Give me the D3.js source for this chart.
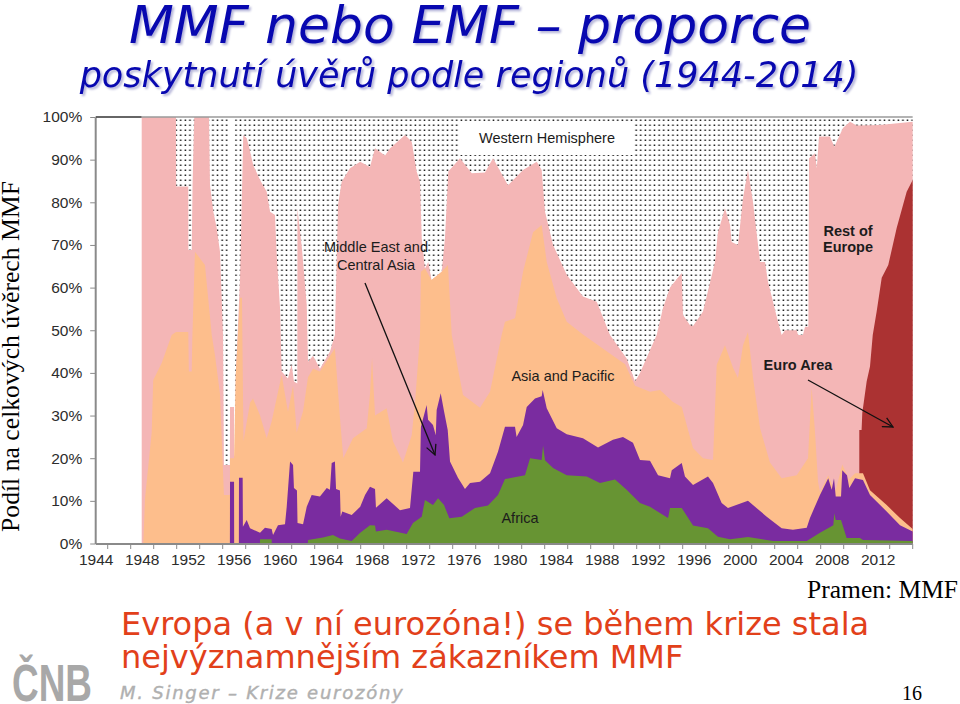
<!DOCTYPE html>
<html>
<head>
<meta charset="utf-8">
<script src="https://cdn.jsdelivr.net/npm/d3@7"></script>
<style>
  html, body { margin: 0; padding: 0; background: #fff; }
  svg { display: block; }
  .title { font-family: "DejaVu Sans", sans-serif; font-style: italic; fill: #0808b0;
           filter: drop-shadow(2px 2px 1px #b4b4d8); }
  .note { font-family: "Liberation Serif", serif; fill: #000; }
  .message { font-family: "DejaVu Sans", sans-serif; fill: #e2401a; font-size: 32px; }
  .axis text { font-family: "Liberation Sans", sans-serif; font-size: 15.5px; fill: #2c2c2c; }
  .axis path, .axis line { stroke: #8a8a8a; }
  .label { font-family: "Liberation Sans", sans-serif; font-size: 14.5px; fill: #1c1c1c; text-anchor: middle; }
</style>
</head>
<body>
<div id="chart"></div>
<script>
  // Cumulative share of IMF credit (percent) at the top of each region
  const africaTop = [[1958.28,0],[1958.29,1],[1959.3,1],[1959.31,0],[1962.45,0],[1962.46,.8],[1963.76,1.4],[1964.63,2],[1965.24,1.2],[1966.26,.6],[1967,2.5],[1967.85,4.3],[1968.29,4.2],[1968.37,2.8],[1969.3,3.2],[1971.04,2.2],[1971.59,4.8],[1972.35,6.3],[1972.63,10.2],[1973.33,9],[1973.77,10.6],[1974.29,9],[1974.75,5.9],[1975.83,6.3],[1976.98,8.3],[1978.11,8.9],[1978.98,11.4],[1979.59,15.1],[1981.33,16],[1981.77,20],[1982.78,19.6],[1982.9,23],[1983.07,19.5],[1983.77,17.7],[1984.96,16],[1986.7,15.7],[1987.85,14.2],[1989.16,15],[1990.17,12.6],[1991.33,9.5],[1992.2,8.6],[1993.77,6],[1993.94,8.3],[1994.96,8.3],[1995.94,4.2],[1997.24,3.6],[1998.11,1.6],[1999.16,1],[2000.72,1.5],[2002.9,.6],[2005.83,.6],[2006.98,2.5],[2008.14,4.3],[2008.23,7.1],[2008.35,5.5],[2008.81,5.5],[2009.3,1.3],[2010.46,1.3],[2010.72,.8],[2015.04,.6]];

  const middleEastTop = [[1955.67,0],[1955.68,14.5],[1956.03,14.5],[1956.04,0],[1956.45,0],[1956.46,15.4],[1956.78,15.4],[1956.8,3.9],[1957.13,5.5],[1957.42,3.6],[1958.29,2.5],[1958.72,3.7],[1959.3,3.4],[1959.42,2],[1959.85,4.3],[1960.46,4.5],[1960.61,8.6],[1960.9,19.2],[1961.16,18.4],[1961.24,13],[1961.5,12.4],[1961.55,4.8],[1962.03,4.5],[1962.35,8.6],[1962.78,11.4],[1963.5,11],[1964.09,13],[1964.37,12.6],[1964.52,18.9],[1964.8,19.2],[1964.9,12.8],[1965.24,12.4],[1965.3,6.3],[1965.44,7.5],[1966.26,6.7],[1967,8.6],[1967.42,11.4],[1967.85,13.3],[1968.29,12.8],[1968.37,8.4],[1969.3,10.6],[1970.46,7.8],[1971.33,8.3],[1971.62,16.8],[1972.2,16.8],[1972.28,27.4],[1972.78,32.5],[1972.9,29],[1973.33,27.8],[1973.57,25.4],[1973.65,31.3],[1974,35.2],[1974.29,31],[1974.61,26.6],[1974.81,19.2],[1975.5,15.4],[1976.11,12.8],[1976.55,14.2],[1977.42,14.5],[1978.29,16.5],[1978.98,21.5],[1979.59,27.4],[1980.46,27.4],[1980.6,25],[1981.16,27.8],[1981.48,32],[1982.2,34],[1982.78,34.5],[1982.87,36],[1983.22,31.7],[1984.09,27],[1984.96,25.6],[1986.37,24.7],[1987.68,22.5],[1988.98,24.3],[1989.85,25],[1990.72,23.6],[1991.33,19.6],[1992.2,19.4],[1992.9,16],[1993.94,15.3],[1994.09,17.2],[1994.96,18.9],[1995.24,15.7],[1995.94,13.7],[1997.24,15.7],[1997.68,14.2],[1998.43,9.5],[1998.98,8.3],[2000.72,10],[2002.35,6.3],[2003.65,3.6],[2004.63,3.2],[2005.83,3.7],[2006.11,6],[2006.98,11.4],[2007.7,15.3],[2008,12.6],[2008.2,15.3],[2008.35,11],[2008.81,11],[2008.92,17.2],[2009.33,16],[2009.53,13],[2010.03,15.3],[2010.72,14.9],[2011.33,11.4],[2012.78,7.5],[2013.94,4.3],[2015.04,2.8]];

  const asiaTop = [[1948.14,0],[1948.29,10.6],[1948.87,26],[1949,38.3],[1949.74,42.3],[1950.61,48.9],[1950.98,49.6],[1952.05,49.6],[1952.1,40.3],[1952.35,40.3],[1952.4,48],[1952.63,68.4],[1953.5,65.3],[1954.09,48.9],[1954.37,44.2],[1954.81,35],[1955.15,11.4],[1955.67,11.4],[1955.68,20],[1956.03,20],[1956.18,39.5],[1956.55,57.6],[1956.72,57.6],[1956.85,24],[1957.42,33],[1957.68,34],[1958.29,30],[1958.87,24.7],[1959.3,28.6],[1960.17,39.5],[1960.72,30.9],[1961.16,37],[1961.48,26],[1962.03,31],[1962.46,39],[1962.9,41],[1963.5,40.3],[1964.8,45.8],[1965.24,29.4],[1965.53,20],[1966.37,24.7],[1967.57,27],[1967.85,35],[1968.03,43.5],[1968.29,30],[1969.3,31.7],[1969.85,24],[1970.72,19],[1971.48,25.4],[1971.77,33],[1972.2,48.9],[1972.28,63.7],[1972.63,64.5],[1973.2,61.8],[1974.09,63.7],[1974.63,65.3],[1974.96,48.9],[1975.5,41],[1975.94,34.8],[1977.42,31.8],[1978.29,35.6],[1979.3,48.9],[1979.59,52],[1980.46,52.8],[1981.16,63.7],[1982.03,73],[1982.78,74.7],[1983.22,66],[1984.09,57.5],[1984.96,52],[1986.37,49],[1990.03,42],[1990.9,37],[1992.2,35.6],[1993.07,36],[1994.2,33.2],[1994.96,32],[1995.94,22.4],[1996.81,20],[1997.68,19.6],[1998,41.9],[1998.72,46.5],[1999.42,41.2],[1999.85,38.8],[2000.29,46.5],[2000.72,49.6],[2001.16,38.8],[2001.77,27],[2002.63,19],[2003.65,15.3],[2004.96,16],[2005.94,20],[2006.26,36.5],[2006.55,26],[2006.81,14.5],[2006.98,12],[2007.7,16],[2008,14],[2008.35,12.5],[2008.92,18.5],[2009.5,15],[2010.03,16.5],[2010.72,16.5],[2011.33,12.5],[2012.78,9],[2013.94,6],[2015.04,3.4]];

  const euroAreaTop = [[2010.4,26.6],[2010.6,26.6],[2010.66,30.6],[2011.04,38],[2011.33,41.5],[2011.57,48.9],[2011.91,54.4],[2012.35,62.3],[2012.92,65.3],[2013.65,74],[2014.52,82.5],[2015.04,85.2]];

  const restOfEuropeTop = [[1948,100],[1950.98,100],[1951,83.7],[1952.05,83.7],[1952.06,68.8],[1952.35,68.8],[1952.42,84],[1952.57,100],[1953.85,100],[1953.94,84],[1954.23,77.8],[1954.52,74],[1954.81,68.4],[1955.07,48.9],[1955.15,18.4],[1955.67,18.4],[1955.68,32],[1956.03,32],[1956.04,20.6],[1956.17,20.6],[1956.18,39.5],[1956.55,62],[1956.83,95.8],[1957.13,95],[1957.36,92.7],[1957.7,88.7],[1958.29,85.2],[1958.87,82.5],[1959.16,77.8],[1959.59,77],[1959.74,67.6],[1960.03,55.2],[1960.17,40.3],[1960.72,38.7],[1961.04,42],[1961.24,38],[1961.53,37.5],[1961.54,78.6],[1961.94,69],[1962.35,56],[1962.46,42.6],[1962.9,44],[1963.5,41],[1964.37,45],[1964.8,48.9],[1965.07,79.4],[1965.39,84.8],[1966.11,88],[1967,89.5],[1967.85,88.3],[1968.29,92.7],[1969.16,91],[1969.6,92.7],[1970.9,95.8],[1971.48,94.2],[1971.91,87.2],[1972.2,84.8],[1972.35,71.6],[1972.63,64.5],[1972.92,66],[1973.2,61.8],[1974.09,63.7],[1974.37,71.6],[1974.66,87.2],[1975.68,90.3],[1976.7,86.8],[1977.85,87],[1978.55,90.3],[1979.85,84],[1981.16,87.6],[1982.35,89.5],[1982.78,87.6],[1983.07,77.8],[1983.77,70],[1984.96,63],[1986.37,57.9],[1987.57,56.7],[1988.72,48.9],[1990.17,43.4],[1990.9,38],[1991.33,40],[1992.78,48.9],[1993.33,55.2],[1993.94,60],[1994.96,63.4],[1995.07,53.6],[1995.68,51.2],[1995.94,51],[1996.81,54.4],[1997.85,66],[1998.11,73],[1998.72,78.6],[1999.16,74.7],[1999.3,70.7],[1999.85,70],[2000.29,81],[2000.72,87.6],[2001.16,80],[2001.77,66],[2002.2,66],[2002.46,61.4],[2003.33,52],[2003.65,48.9],[2003.94,50],[2004.96,50],[2005.07,48.9],[2005.5,48.9],[2005.68,50.8],[2005.97,50.8],[2006.03,90.3],[2006.55,91.5],[2006.7,88],[2006.9,95.4],[2007.85,95.4],[2008.23,93],[2008.98,97.4],[2009.59,98.9],[2010.17,98],[2012.2,98.1],[2015.04,98.9]];

  const westernHemisphereTop = [[1948,100],[2015.04,100]];
  // Stretch of the dotted fill where the dots are missing
  const undottedBand = [[1955.5,100],[1956.1,100]];

  const yearLabels = d3.range(1944, 2013, 4);
  const yearTicks = d3.range(1945, 2016, 2);
  const percentTicks = d3.range(0, 101, 10);

  const svg = d3.select('#chart').append('svg')
      .attr('width', 960)
      .attr('height', 704);

  const xScale = d3.scaleLinear().domain([1948, 2012]).range([141.7, 877.7]);
  const yScale = d3.scaleLinear().domain([0, 100]).range([543.5, 117]);

  const area = d3.area()
      .x(d => xScale(d[0]))
      .y0(yScale(0))
      .y1(d => yScale(d[1]));

  // Dotted fill for the Western Hemisphere
  const dots = svg.append('defs').append('pattern')
      .attr('id', 'dots')
      .attr('patternUnits', 'userSpaceOnUse')
      .attr('x', 141.7)
      .attr('y', 118)
      .attr('width', 4.6)
      .attr('height', 5);
  dots.append('rect')
      .attr('x', 1.5).attr('y', 1.5)
      .attr('width', 1.5).attr('height', 1.5)
      .attr('fill', '#111');

  // Painted from the top of the stack down, each one cumulative
  const layers = [
    [westernHemisphereTop, 'url(#dots)'],
    [undottedBand, '#fff'],
    [restOfEuropeTop, '#f4b6b6'],
    [euroAreaTop, '#ab3232'],
    [asiaTop, '#fdbe8c'],
    [middleEastTop, '#7a2ca0'],
    [africaTop, '#679433'],
  ];
  svg.append('g').selectAll('path')
    .data(layers)
    .join('path')
      .attr('d', d => area(d[0]))
      .attr('fill', d => d[1]);

  // White box behind the Western Hemisphere label, then the axes
  svg.append('rect')
      .attr('x', 460).attr('y', 122)
      .attr('width', 174).attr('height', 33)
      .attr('fill', '#fff');

  const yAxis = svg.append('g')
      .attr('class', 'axis')
      .attr('transform', `translate(${xScale(1944) - 0.5},0)`)
      .call(d3.axisLeft(yScale).tickValues(percentTicks).tickFormat(d => d + '%').tickSize(5).tickPadding(8).tickSizeOuter(0));
  yAxis.select('.domain').attr('stroke-width', 2);

  const xAxisTicks = svg.append('g')
      .attr('class', 'axis')
      .attr('transform', `translate(0,${yScale(0) + 0.5})`)
      .call(d3.axisBottom(xScale).tickValues(yearTicks).tickFormat('').tickSize(5).tickSizeOuter(0));
  xAxisTicks.select('.domain').attr('d', `M${xScale(1944)},0H${xScale(2015.04)}`).attr('stroke-width', 2);

  svg.append('g')
      .attr('class', 'axis')
      .attr('transform', `translate(0,${yScale(0) + 0.5})`)
      .call(d3.axisBottom(xScale).tickValues(yearLabels).tickFormat(d3.format('d')).tickSize(0).tickPadding(10))
      .call(g => g.select('.domain').remove());

  // Top edge of the plot
  svg.append('line')
      .attr('x1', xScale(1944)).attr('x2', xScale(1948))
      .attr('y1', yScale(100)).attr('y2', yScale(100))
      .attr('stroke', '#333').attr('stroke-width', 1.5);
  svg.append('line')
      .attr('x1', xScale(1948)).attr('x2', xScale(2015.04))
      .attr('y1', yScale(100)).attr('y2', yScale(100))
      .attr('stroke', '#9a9a9a').attr('stroke-width', 1.5);

  // Region labels
  const regionLabels = [
    ['Western Hemisphere', 547, 143, 'normal'],
    ['Middle East and', 376, 252, 'normal'],
    ['Central Asia', 376, 270, 'normal'],
    ['Asia and Pacific', 563, 381, 'normal'],
    ['Africa', 520, 523, 'normal'],
    ['Rest of', 848, 236, 'bold'],
    ['Europe', 848, 252, 'bold'],
    ['Euro Area', 798, 370, 'bold'],
  ];
  svg.append('g').selectAll('text')
    .data(regionLabels)
    .join('text')
      .attr('class', 'label')
      .attr('x', d => d[1])
      .attr('y', d => d[2])
      .attr('font-weight', d => d[3])
      .text(d => d[0]);

  // Arrows
  const arrows = [[365, 283, 435, 455], [808, 380, 893, 427]];
  svg.append('defs').append('marker')
      .attr('id', 'head')
      .attr('viewBox', '0 0 12 12')
      .attr('refX', 11).attr('refY', 6)
      .attr('markerWidth', 12).attr('markerHeight', 12)
      .attr('markerUnits', 'userSpaceOnUse')
      .attr('orient', 'auto')
    .append('path')
      .attr('d', 'M1,1L11,6L1,11')
      .attr('fill', 'none')
      .attr('stroke', '#111')
      .attr('stroke-width', 1.3);
  svg.append('g').selectAll('line')
    .data(arrows)
    .join('line')
      .attr('x1', d => d[0]).attr('y1', d => d[1])
      .attr('x2', d => d[2]).attr('y2', d => d[3])
      .attr('stroke', '#111')
      .attr('stroke-width', 1.3)
      .attr('marker-end', 'url(#head)');

  // Slide furniture
  svg.append('text').attr('class', 'title')
      .attr('x', 470).attr('y', 43)
      .attr('text-anchor', 'middle')
      .attr('font-size', 52)
      .text('MMF nebo EMF – proporce');
  svg.append('text').attr('class', 'title')
      .attr('x', 469).attr('y', 87)
      .attr('text-anchor', 'middle')
      .attr('font-size', 35)
      .text('poskytnutí úvěrů podle regionů (1944-2014)');

  svg.append('text').attr('class', 'note')
      .attr('transform', 'translate(19,532) rotate(-90)')
      .attr('font-size', 25.7)
      .text('Podíl na celkových úvěrech MMF');
  svg.append('text').attr('class', 'note')
      .attr('x', 958).attr('y', 598)
      .attr('text-anchor', 'end')
      .attr('font-size', 25.5)
      .text('Pramen: MMF');
  svg.append('text').attr('class', 'note')
      .attr('x', 922).attr('y', 700)
      .attr('text-anchor', 'end')
      .attr('font-size', 20)
      .text('16');

  svg.append('text').attr('class', 'message')
      .attr('x', 121).attr('y', 635)
      .text('Evropa (a v ní eurozóna!) se během krize stala');
  svg.append('text').attr('class', 'message')
      .attr('x', 121).attr('y', 668)
      .text('nejvýznamnějším zákazníkem MMF');

  svg.append('text')
      .attr('x', 120).attr('y', 699)
      .attr('font-family', '"DejaVu Sans", sans-serif')
      .attr('font-style', 'italic')
      .attr('font-size', 18)
      .attr('letter-spacing', 1.75)
      .attr('fill', '#b0b0b0')
      .attr('stroke', '#b0b0b0')
      .attr('stroke-width', 0.4)
      .text('M. Singer – Krize eurozóny');

  svg.append('text')
      .attr('x', 12).attr('y', 701)
      .attr('font-family', '"Liberation Sans", sans-serif')
      .attr('font-weight', 'bold')
      .attr('font-size', 51)
      .attr('fill', '#a8a8a8')
      .attr('textLength', 80)
      .attr('lengthAdjust', 'spacingAndGlyphs')
      .text('ČNB');
</script>
</body>
</html>
